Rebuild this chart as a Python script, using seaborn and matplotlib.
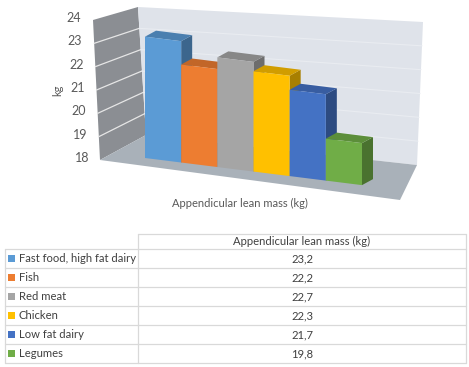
import numpy as np
import matplotlib
matplotlib.use("Agg")
import matplotlib.pyplot as plt
import matplotlib.transforms as mtransforms
from matplotlib.patches import Polygon
import seaborn as sns

# ---------------- data ----------------
categories = ["Fast food, high fat dairy", "Fish", "Red meat", "Chicken", "Low fat dairy", "Legumes"]
values = [23.2, 22.2, 22.7, 22.3, 21.7, 19.8]
colors = ["#5B9BD5", "#ED7D31", "#A5A5A5", "#FFC000", "#4472C4", "#70AD47"]
y_ticks = [18, 19, 20, 21, 22, 23, 24]
series_name = "Appendicular lean mass (kg)"
y_label = "kg"

sns.set_style("white")
plt.rcParams["font.family"] = ["Lato", "DejaVu Sans"]

W, H = 469, 367
fig = plt.figure(figsize=(W / 100, H / 100), dpi=100)


def fx(x):
    return x / W


def fy(y):
    return 1 - y / H


def P(pts):
    return [(fx(x), fy(y)) for x, y in pts]


# main axes: bar front plane
ax_l, ax_r, y18, y24 = 145, 362, 158, 18
ax = fig.add_axes([fx(ax_l), fy(y18), (ax_r - ax_l) / W, (y18 - y24) / H])
ax.set_xlim(-0.5, 5.5)
ax.set_ylim(y_ticks[0], y_ticks[-1])
ax.patch.set_alpha(0)

# ---------------- walls (decoration) ----------------
tf = fig.transFigure
lw_front = [(93, 20), (100, 160)]   # left wall front edge (top, bottom)
lw_back = [(138, 7), (146, 135)]    # left/back corner edge
bw_right = [(423, 22), (417, 165)]  # back wall right edge
floor = [(146, 135), (417, 165), (400, 200), (100, 160)]

fig.add_artist(Polygon(P([lw_front[0], lw_back[0], lw_back[1], lw_front[1]]), closed=True,
                       transform=tf, facecolor="#8b8e93", edgecolor="none", zorder=-5))
fig.add_artist(Polygon(P([lw_back[0], bw_right[0], bw_right[1], lw_back[1]]), closed=True,
                       transform=tf, facecolor="#dfe3ea", edgecolor="none", zorder=-5))
fig.add_artist(Polygon(P(floor), closed=True, transform=tf,
                       facecolor="#a9b1b9", edgecolor="none", zorder=-5))


def lerp(a, b, t):
    return (a[0] + (b[0] - a[0]) * t, a[1] + (b[1] - a[1]) * t)


lo, hi = y_ticks[0], y_ticks[-1]
for v in y_ticks[1:-1]:
    t = (hi - v) / (hi - lo)
    a = lerp(lw_front[0], lw_front[1], t)
    b = lerp(lw_back[0], lw_back[1], t)
    c = lerp(bw_right[0], bw_right[1], t)
    fig.add_artist(plt.Line2D([fx(a[0]), fx(b[0])], [fy(a[1]), fy(b[1])], transform=tf,
                              color="#e6e6e6", lw=0.9, zorder=-4))
    fig.add_artist(plt.Line2D([fx(b[0]), fx(c[0])], [fy(b[1]), fy(c[1])], transform=tf,
                              color="#e9ecf1", lw=0.8, zorder=-4))

# ---------------- bars ----------------
sns.barplot(x=categories, y=values, hue=categories, palette=colors, width=1.0,
            saturation=1, legend=False, ax=ax, order=categories, hue_order=categories)

# perspective-like skew (bottoms drop to the right)
slope = 0.125
skew = (mtransforms.Affine2D().translate(-ax_l, 0)
        .skew(0, np.arctan(-slope)).translate(ax_l, 0))
trans = ax.transData + skew

dx, dy = 11, 6  # depth offset in pixels (display coords)
bars = list(ax.patches)
for p, c in zip(bars, colors):
    p.set_y(lo)
    p.set_height(p.get_height() - lo)
    p.set_transform(trans)
    p.set_clip_on(False)
    p.set_edgecolor("none")
    p.set_zorder(3)
    x0, x1 = p.get_x(), p.get_x() + p.get_width()
    y0, y1 = lo, lo + p.get_height()
    pts = trans.transform([(x0, y0), (x1, y0), (x1, y1), (x0, y1)])
    bl, br, tr, tl = pts
    rgb = np.array(matplotlib.colors.to_rgb(c))
    side = [br, br + (dx, dy), tr + (dx, dy), tr]
    top = [tl, tr, tr + (dx, dy), tl + (dx, dy)]
    ax.add_patch(Polygon(side, closed=True, transform=mtransforms.IdentityTransform(),
                         facecolor=rgb * 0.66, edgecolor="none", zorder=2, clip_on=False))
    ax.add_patch(Polygon(top, closed=True, transform=mtransforms.IdentityTransform(),
                         facecolor=rgb * 0.82, edgecolor="none", zorder=2, clip_on=False))

ax.axis("off")

# y tick labels on the left wall
txt_col = "#595959"
blend = mtransforms.blended_transform_factory(fig.transFigure, ax.transData)
for v in y_ticks:
    xr = 89 - (v - lo) * 8 / (hi - lo)
    ax.text(fx(xr), v, str(v), transform=blend, ha="right", va="center",
            fontsize=9, color=txt_col, clip_on=False)
fig.text(fx(58), fy(90), y_label, rotation=90, ha="center", va="center",
         fontsize=8, color=txt_col)
fig.text(fx(240), fy(203), series_name, ha="center", va="center", fontsize=8, color=txt_col)

# ---------------- data table ----------------
grid_col = "#d9d9d9"
tab_top, head_h, row_h = 234, 15, 19
xl, xm, xr_ = 5, 138, 466
tab_bot = tab_top + head_h + row_h * len(categories)


def hline(y, x0, x1):
    fig.add_artist(plt.Line2D([fx(x0), fx(x1)], [fy(y), fy(y)], transform=tf,
                              color=grid_col, lw=0.9))


def vline(x, y0, y1):
    fig.add_artist(plt.Line2D([fx(x), fx(x)], [fy(y0), fy(y1)], transform=tf,
                              color=grid_col, lw=0.9))


hline(tab_top, xm, xr_)
for i in range(len(categories) + 1):
    hline(tab_top + head_h + i * row_h, xl, xr_)
vline(xl, tab_top + head_h, tab_bot)
vline(xm, tab_top, tab_bot)
vline(xr_, tab_top, tab_bot)

tab_col = "#404040"
tab_fs = 8.1
fig.text(fx((xm + xr_) / 2), fy(tab_top + head_h / 2), series_name, ha="center", va="center",
         fontsize=tab_fs, color=tab_col)
for i, (cat, v, c) in enumerate(zip(categories, values, colors)):
    yc = tab_top + head_h + row_h * i + row_h / 2
    fig.add_artist(matplotlib.patches.Rectangle((fx(8), fy(yc + 3.5)), 7 / W, 7 / H,
                                                transform=tf, facecolor=c, edgecolor="none"))
    fig.text(fx(18.5), fy(yc), cat, ha="left", va="center", fontsize=tab_fs, color=tab_col)
    fig.text(fx((xm + xr_) / 2), fy(yc), f"{v:.1f}".replace(".", ","), ha="center",
             va="center", fontsize=tab_fs, color=tab_col)

fig.savefig("out.png", dpi=100, facecolor="white")
